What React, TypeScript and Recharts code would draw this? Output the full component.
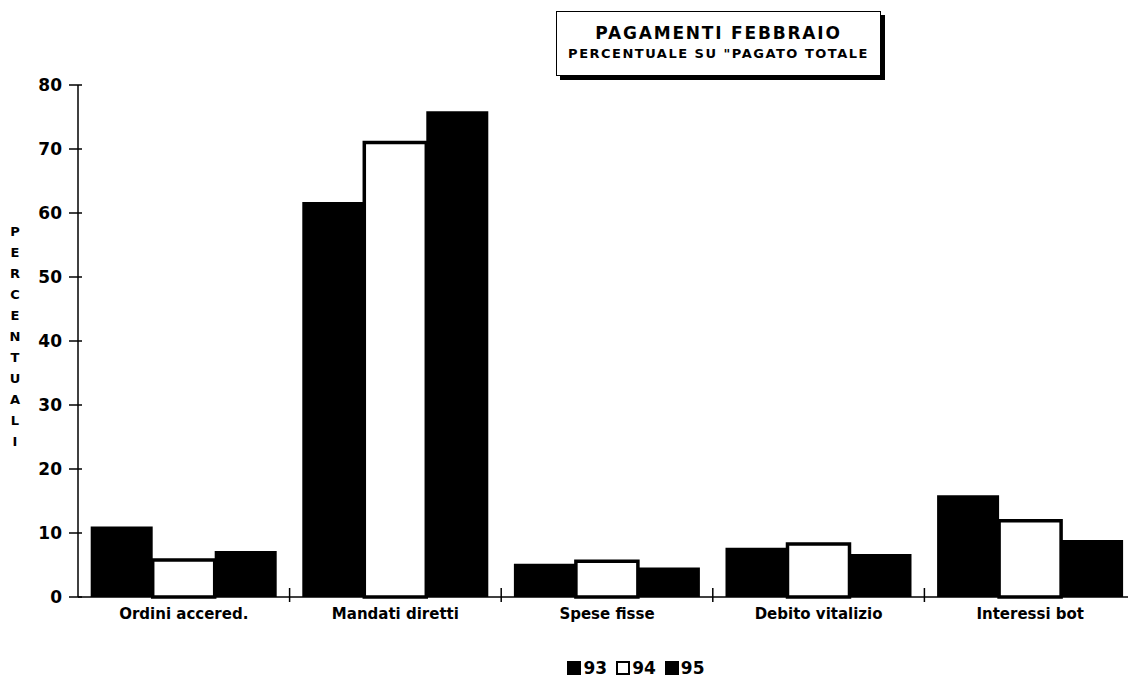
import { Bar, BarChart, XAxis, YAxis } from "recharts";

const categories = [
  "Ordini accered.",
  "Mandati diretti",
  "Spese fisse",
  "Debito vitalizio",
  "Interessi bot",
];
const s93 = [11.0, 61.7, 5.2, 7.7, 15.9];
const s94 = [5.8, 71.0, 5.6, 8.3, 11.9];
const s95 = [7.2, 75.9, 4.6, 6.7, 8.9];
const yTicks = [0, 10, 20, 30, 40, 50, 60, 70, 80];
const axisLabel = "PERCENTUALI";
const title = "PAGAMENTI FEBBRAIO";
const subtitle = "PERCENTUALE SU \"PAGATO TOTALE";

const series = [
  { key: "93", values: s93, fill: "#000", hollow: false },
  { key: "94", values: s94, fill: "#fff", hollow: true },
  { key: "95", values: s95, fill: "#000", hollow: false },
];

const data = categories.map((name, i) => ({
  name,
  "93": s93[i],
  "94": s94[i],
  "95": s95[i],
}));

const FONT = "'DejaVu Sans', Arial, sans-serif";

function YTick({ x, y, payload }: any) {
  return (
    <g>
      <line x1={x - 9} x2={x + 4} y1={y} y2={y} stroke="#000" strokeWidth={1.5} />
      <text
        x={x - 16}
        y={y}
        dy="0.36em"
        textAnchor="end"
        fontFamily={FONT}
        fontWeight="bold"
        fontSize={17}
        fill="#000"
      >
        {payload.value}
      </text>
    </g>
  );
}

// category label, plus the small crossing tick on the boundary to its right
function CatTick({ x, y, payload, index }: any) {
  const half = payload.offset || 0;
  const last = index === categories.length - 1;
  return (
    <g>
      {!last && (
        <line
          x1={x + half}
          x2={x + half}
          y1={y - 9}
          y2={y + 5}
          stroke="#000"
          strokeWidth={1.5}
        />
      )}
      <text
        x={x}
        y={y + 22}
        textAnchor="middle"
        fontFamily={FONT}
        fontWeight="bold"
        fontSize={15}
        fill="#000"
      >
        {payload.value}
      </text>
    </g>
  );
}

export default function App() {
  return (
    <div
      style={{
        position: "fixed",
        left: 0,
        top: 0,
        width: 1128,
        height: 688,
        overflow: "hidden",
        background: "#fff",
        fontFamily: FONT,
      }}
    >
      <BarChart
        width={1140}
        height={688}
        data={data}
        margin={{ top: 85, right: 4, left: 0, bottom: 61 }}
        barCategoryGap="6%"
        barGap={0}
      >
        <XAxis
          dataKey="name"
          interval={0}
          height={30}
          tickSize={0}
          tickMargin={0}
          tickLine={false}
          axisLine={{ stroke: "#000", strokeWidth: 1.5 }}
          tick={<CatTick />}
        />
        <YAxis
          width={78}
          domain={[0, 80]}
          ticks={yTicks}
          interval={0}
          tickSize={0}
          tickMargin={0}
          tickLine={false}
          tick={<YTick />}
          axisLine={{ stroke: "#000", strokeWidth: 1.5 }}
        />
        {series.map((s) => (
          <Bar
            key={s.key}
            dataKey={s.key}
            fill={s.fill}
            stroke={s.hollow ? "#000" : "none"}
            strokeWidth={s.hollow ? 3.5 : 0}
            isAnimationActive={false}
          />
        ))}
      </BarChart>

      <div
        style={{
          position: "absolute",
          left: 8,
          top: 221,
          width: 14,
          display: "flex",
          flexDirection: "column",
          alignItems: "center",
          fontWeight: "bold",
          fontSize: 13,
          lineHeight: "21px",
        }}
      >
        {axisLabel.split("").map((c, i) => (
          <span key={i}>{c}</span>
        ))}
      </div>

      <div
        style={{
          position: "absolute",
          left: 556,
          top: 11,
          width: 325,
          height: 65,
          boxSizing: "border-box",
          border: "1.5px solid #000",
          boxShadow: "4px 4px 0 #000",
          background: "#fff",
          textAlign: "center",
          fontWeight: "bold",
        }}
      >
        <div style={{ fontSize: 17, letterSpacing: 1.8, marginTop: 11, lineHeight: "20px" }}>
          {title}
        </div>
        <div style={{ fontSize: 13, letterSpacing: 1.5, marginTop: 3, lineHeight: "16px" }}>
          {subtitle}
        </div>
      </div>

      <div
        style={{
          position: "absolute",
          left: 0,
          width: 1272,
          top: 658,
          display: "flex",
          justifyContent: "center",
          gap: 9,
          fontWeight: "bold",
          fontSize: 17,
          lineHeight: "20px",
        }}
      >
        {series.map((s) => (
          <div key={s.key} style={{ display: "flex", alignItems: "center", gap: 2 }}>
            <span
              style={{
                display: "inline-block",
                width: 14,
                height: 14,
                boxSizing: "border-box",
                background: s.fill,
                border: "2px solid #000",
              }}
            />
            <span>{s.key}</span>
          </div>
        ))}
      </div>
    </div>
  );
}
